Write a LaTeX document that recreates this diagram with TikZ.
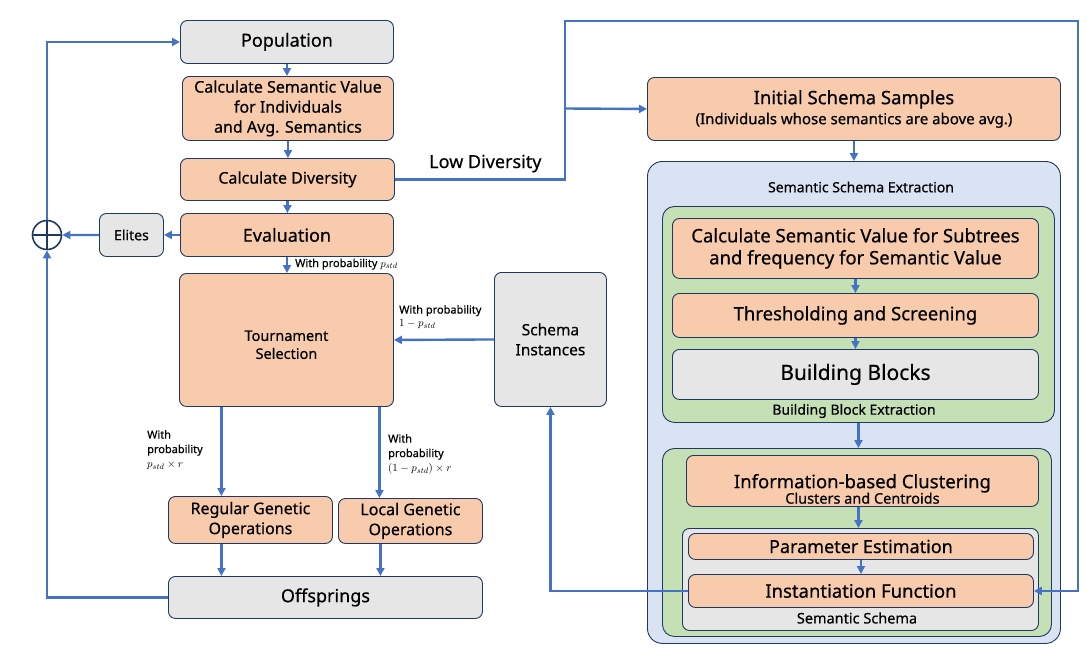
\documentclass[tikz,border=0pt]{standalone}
\usepackage{fontspec}
\setmainfont{Noto Sans}[FakeBold=0.5]
\usetikzlibrary{arrows.meta,calc}
\definecolor{peach}{HTML}{F8CBAD}
\definecolor{lgray}{HTML}{E7E6E6}
\definecolor{lblue}{HTML}{DAE3F3}
\definecolor{lgreen}{HTML}{C5E0B4}
\definecolor{navy}{HTML}{203864}
\definecolor{flow}{HTML}{4472C4}
\newcommand{\fsz}[2]{\fontsize{#1}{#2}\selectfont}
\tikzset{
	blk/.style={draw=navy, line width=0.9pt, rounded corners=7pt, inner sep=0pt, align=center, anchor=north west},
	ora/.style={blk, fill=peach},
	gry/.style={blk, fill=lgray},
	grn/.style={blk, fill=lgreen, rounded corners=12pt},
	conn/.style={draw=flow, line width=2.4pt},
	plbl/.style={inner sep=0pt, align=left, font=\fsz{11}{14}},
}

\begin{document}
\begin{tikzpicture}[>={Triangle[length=8pt,width=8pt]}, x=1pt, y=-1pt]
		\useasboundingbox (0,0) rectangle (1087,651);
		\node[gry, minimum width=213, minimum height=43, font=\fsz{18}{22}] (pop) at (180,20) {Population};
		\node[ora, minimum width=211, minimum height=64, font=\fsz{16}{20}] (csv) at (182,76) {Calculate Semantic Value\\for Individuals\\and Avg. Semantics};
		\node[ora, minimum width=214, minimum height=42, font=\fsz{16}{20}] (cdiv) at (180,158) {Calculate Diversity};
		\node[ora, minimum width=213, minimum height=43, font=\fsz{18}{22}] (eval) at (180,213) {Evaluation};
		\node[gry, minimum width=64, minimum height=43, font=\fsz{14}{17}] (elite) at (99,213) {Elites};
		\node[circle, draw=navy, line width=1.6pt, minimum size=29pt, inner sep=0pt] (plus) at (47,235) {};
		\draw[navy, line width=1.6pt] (plus.north) -- (plus.south) (plus.west) -- (plus.east);
		\node[ora, minimum width=214, minimum height=133, font=\fsz{14.5}{18}] (tour) at (179,273) {\rule{0pt}{20pt}Tournament\\Selection};
		\node[gry, minimum width=112, minimum height=134, font=\fsz{15.5}{20}] (sinst) at (494,272) {Schema\\Instances};
		\node[ora, minimum width=164, minimum height=47, font=\fsz{16}{20}] (reg) at (168,496) {Regular Genetic\\Operations};
		\node[ora, minimum width=144, minimum height=45, font=\fsz{16}{20}] (loc) at (338,498) {Local Genetic\\Operations};
		\node[gry, minimum width=314, minimum height=42, font=\fsz{18}{22}] (offs) at (168,576) {Offsprings};

		\node[ora, minimum width=413, minimum height=63, font=\fsz{18.5}{20}] (iss) at (647,77) {Initial Schema Samples\\{\fsz{15}{20}(Individuals whose semantics are above avg.)}};
		\node[blk, fill=lblue, rounded corners=15pt, minimum width=413, minimum height=482] (sse) at (647,161) {};
		\node[font=\fsz{14}{17}] (sseL) at (861,187) {Semantic Schema Extraction};
		\node[grn, minimum width=392, minimum height=216] (bbe) at (662,206) {};
		\node[ora, minimum width=366, minimum height=60, font=\fsz{18.5}{22}] (csub) at (672,218) {Calculate Semantic Value for Subtrees\\and frequency for Semantic Value};
		\node[ora, minimum width=366, minimum height=44, font=\fsz{18.5}{22}] (thr) at (672,293) {Thresholding and Screening};
		\node[gry, minimum width=366, minimum height=50, font=\fsz{21}{25}] (bb) at (672,349) {Building Blocks};
		\node[font=\fsz{14}{17}] (bbeL) at (854,411) {Building Block Extraction};
		\node[grn, minimum width=389, minimum height=188] (clu) at (662,448) {};
		\node[ora, minimum width=352, minimum height=51, font=\fsz{18.5}{13}] (info) at (686,455) {\rule{0pt}{30pt}Information-based Clustering\\[-1pt]{\fsz{14.5}{13}Clusters and Centroids}};
		\node[gry, minimum width=356, minimum height=102] (ssch) at (682,528) {};
		\node[ora, minimum width=345, minimum height=26, font=\fsz{18}{22}] (pe) at (688,533) {Parameter Estimation};
		\node[ora, minimum width=345, minimum height=33, font=\fsz{18.5}{22}] (inf) at (688,574) {Instantiation Function};
		\node[font=\fsz{14.5}{17}] (sschL) at (857,618) {Semantic Schema};

		\draw[conn,->] (pop.south) -- (pop.south |- csv.north);
		\draw[conn,->] (csv.south) -- (csv.south |- cdiv.north);
		\draw[conn,->] (cdiv.south) -- (cdiv.south |- eval.north);
		\draw[conn,->] (eval.south) -- (eval.south |- tour.north);
		\draw[conn,->] (eval.west) -- (elite.east);
		\draw[conn,->] (elite.west) -- (plus.east);
		\draw[conn,->] (plus.north) |- (pop.west);
		\draw[conn,->] (offs.west) -| (plus.south);
		\draw[conn,->] ([xshift=-65pt]tour.south) -- ([xshift=-65pt]tour.south |- reg.north);
		\draw[conn,->] ([xshift=93pt]tour.south) -- ([xshift=93pt]tour.south |- loc.north);
		\draw[conn,->] ([xshift=-29pt]reg.south) -- ([xshift=-29pt]reg.south |- offs.north);
		\draw[conn,->] ([xshift=-30pt]loc.south) -- ([xshift=-30pt]loc.south |- offs.north);
		\draw[conn,->] (sinst.west) -- (tour.east);
		\draw[conn,->] (inf.west) -| (sinst.south);

		\coordinate (fork) at (565,108.5);
		\coordinate (ne) at (1078,21);
		\draw[conn,->] (cdiv.east) -| (fork) |- (ne) |- (inf.east);
		\draw[conn,->] (fork) -- (iss.west);
		\draw[conn,->] (iss.south) -- (sse.north);
		\draw[conn,->] (csub.south) -- (csub.south |- thr.north);
		\draw[conn,->] (thr.south) -- (thr.south |- bb.north);
		\draw[conn,->] (bbe.south) -- (bbe.south |- clu.north);
		\draw[conn,->] ([xshift=-4pt]info.south) -- ([xshift=-4pt]info.south |- ssch.north);
		\draw[conn,->] (pe.south) -- (pe.south |- inf.north);

		\node[anchor=base west, inner sep=0pt, font=\fsz{18}{22}] (lowd) at (429,168) {Low Diversity};
		\node[plbl, anchor=base west] (pstd) at (295,267) {With probability $p_{std}$};
		\node[plbl, anchor=north west, font=\fsz{11}{13}] (pinst) at (399,305) {With probability\\$1-p_{std}$};
		\node[plbl, anchor=north west, font=\fsz{11}{14.5}] (preg) at (147,430) {With\\probability\\$p_{std}\times r$};
		\node[plbl, anchor=north west, font=\fsz{11}{14.5}] (ploc) at (388,434) {With\\probability\\$(1-p_{std})\times r$};
	\end{tikzpicture}
\end{document}
